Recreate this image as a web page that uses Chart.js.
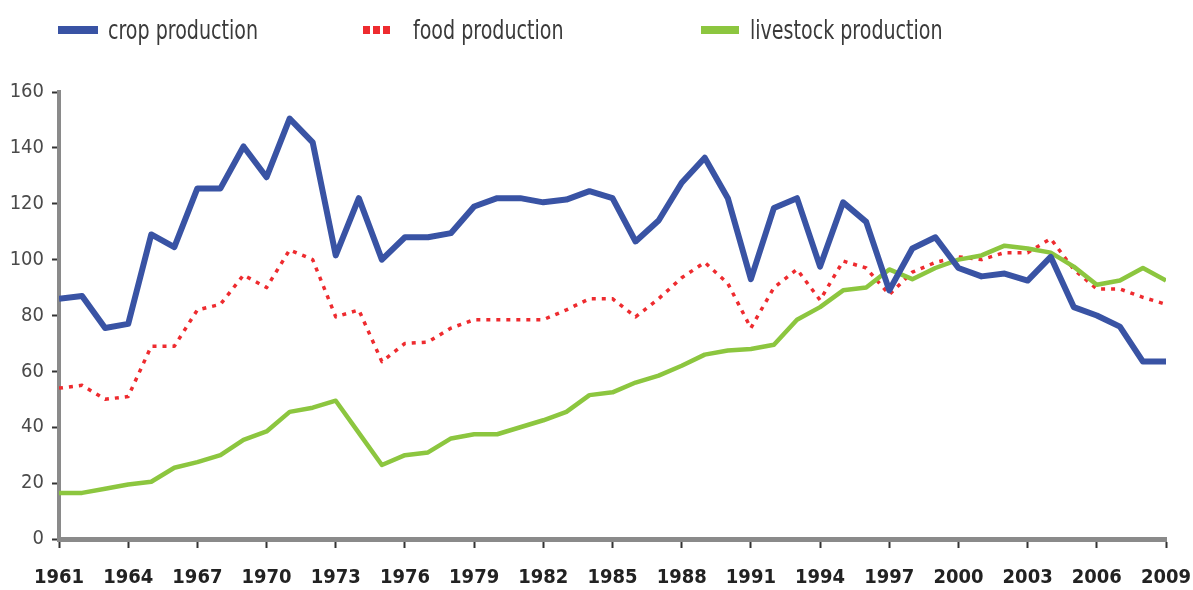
<!DOCTYPE html>
<html>
<head>
<meta charset="utf-8">
<script src="https://cdn.jsdelivr.net/npm/chart.js@4.4.0/dist/chart.umd.min.js"></script>
<style>
html, body { margin: 0; padding: 0; background: #fff; }
#wrap { position: relative; width: 1193px; height: 590px; }
#legend { position: absolute; left: 0; top: 0; width: 1193px; height: 60px;
  font-family: "Liberation Sans Narrow", "DejaVu Sans Condensed", sans-serif; font-size: 26px; color: #3a3a3a; }
.item { position: absolute; top: 14px; height: 32px; display: flex; align-items: center; white-space: nowrap; }
.item span { display: inline-block; transform: scaleX(0.815); transform-origin: left center; }
.sw { height: 8px; }
canvas { position: absolute; left: 0; top: 0; }
</style>
</head>
<body>
<div id="wrap">
  <canvas id="chart" width="1193" height="590"></canvas>
  <div id="legend"></div>
</div>
<script>
// index values, 1961 = first year
const years = [1961, 1962, 1963, 1964, 1965, 1966, 1967, 1968, 1969, 1970,
  1971, 1972, 1973, 1974, 1975, 1976, 1977, 1978, 1979, 1980,
  1981, 1982, 1983, 1984, 1985, 1986, 1987, 1988, 1989, 1990,
  1991, 1992, 1993, 1994, 1995, 1996, 1997, 1998, 1999, 2000,
  2001, 2002, 2003, 2004, 2005, 2006, 2007, 2008, 2009];

const crop = [86, 87, 75.5, 77, 109, 104.5, 125.5, 125.5, 140.5, 129.5,
  150.5, 142, 101.5, 122, 100, 108, 108, 109.5, 119, 122,
  122, 120.5, 121.5, 124.5, 122, 106.5, 114, 127.5, 136.5, 122,
  93, 118.5, 122, 97.5, 120.5, 113.5, 89, 104, 108, 97,
  94, 95, 92.5, 101, 83, 80, 76, 63.5, 63.5];

const food = [54, 55, 50, 51, 69, 69, 82, 84, 94.5, 90,
  103.5, 100, 79.5, 82, 63.5, 70, 70.5, 75.5, 78.5, 78.5,
  78.5, 78.5, 82, 86, 86, 79.5, 86, 93.5, 99, 91.5,
  75.5, 90, 96.5, 85.5, 99.5, 97, 87.5, 95.5, 99, 101,
  100, 102.5, 102.5, 107.5, 96.5, 89.5, 89.5, 86.5, 84];

const livestock = [16.5, 16.5, 18, 19.5, 20.5, 25.5, 27.5, 30, 35.5, 38.5,
  45.5, 47, 49.5, 38, 26.5, 30, 31, 36, 37.5, 37.5,
  40, 42.5, 45.5, 51.5, 52.5, 56, 58.5, 62, 66, 67.5,
  68, 69.5, 78.5, 83, 89, 90, 96.5, 93, 97, 100,
  101.5, 105, 104, 102.5, 97.5, 91, 92.5, 97, 92.5];

const xTickYears = [1961, 1964, 1967, 1970, 1973, 1976, 1979, 1982, 1985,
  1988, 1991, 1994, 1997, 2000, 2003, 2006, 2009];
const yTicks = [0, 20, 40, 60, 80, 100, 120, 140, 160];

const seriesNames = ['crop production', 'food production', 'livestock production'];

const FONT = "'Liberation Sans Narrow', 'DejaVu Sans Condensed', sans-serif";

function pts(vals) {
  return years.map((y, i) => ({ x: y, y: vals[i] }));
}

const datasets = [
  { label: seriesNames[0], data: pts(crop), borderColor: '#3953a4', borderWidth: 6, order: 0 },
  { label: seriesNames[1], data: pts(food), borderColor: '#ee2b2f', borderWidth: 3.5, borderDash: [4, 6], order: 2 },
  { label: seriesNames[2], data: pts(livestock), borderColor: '#8cc63f', borderWidth: 4.5, order: 1 }
];
datasets.forEach(d => { d.pointRadius = 0; d.tension = 0; d.fill = false; d.borderJoinStyle = 'round'; });

new Chart(document.getElementById('chart'), {
  type: 'line',
  data: { datasets: datasets },
  options: {
    responsive: false,
    animation: false,
    layout: { padding: { top: 92, right: 27, left: 0, bottom: 0 } },
    plugins: { legend: { display: false }, tooltip: { enabled: false } },
    scales: {
      x: {
        type: 'linear', min: 1961, max: 2009,
        afterBuildTicks: s => { s.ticks = xTickYears.map(v => ({ value: v })); },
        afterFit: s => { s.height = 51; s.paddingLeft = 0; s.paddingRight = 0; },
        border: { color: '#8a8a8a', width: 5 },
        grid: { drawOnChartArea: false, drawTicks: true, tickLength: 9, tickColor: '#333', tickWidth: 2 },
        ticks: {
          autoSkip: false, maxRotation: 0, padding: 18, color: '#222',
          font: { family: FONT, size: 20, weight: 'bold' },
          callback: v => String(v)
        }
      },
      y: {
        min: 0, max: 160,
        afterBuildTicks: s => { s.ticks = yTicks.map(v => ({ value: v })); },
        afterFit: s => { s.width = 59; },
        border: { color: '#8a8a8a', width: 4 },
        grid: { drawOnChartArea: false, drawTicks: true, tickLength: 7, tickColor: '#333', tickWidth: 2 },
        ticks: {
          padding: 8, color: '#4a4a4a',
          font: { family: FONT, size: 20 }
        }
      }
    }
  }
});

// legend built from the datasets
const legendPos = [
  { left: 58, sw: 40, gap: 10 },
  { left: 363, sw: 28, gap: 22 },
  { left: 701, sw: 38, gap: 11 }
];
const legend = document.getElementById('legend');
datasets.forEach((d, i) => {
  const p = legendPos[i];
  const item = document.createElement('div');
  item.className = 'item';
  item.style.left = p.left + 'px';
  const sw = document.createElement('div');
  sw.className = 'sw';
  sw.style.width = p.sw + 'px';
  sw.style.marginRight = p.gap + 'px';
  if (d.borderDash) {
    sw.style.background = 'repeating-linear-gradient(90deg, ' + d.borderColor + ' 0 7px, transparent 7px 10px)';
  } else {
    sw.style.background = d.borderColor;
  }
  const txt = document.createElement('span');
  txt.textContent = d.label;
  item.appendChild(sw);
  item.appendChild(txt);
  legend.appendChild(item);
});
</script>
</body>
</html>
